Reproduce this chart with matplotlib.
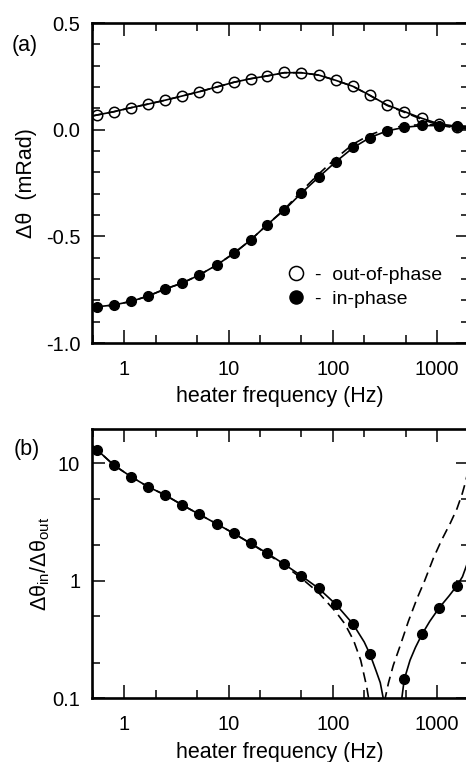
import numpy as np
import matplotlib
matplotlib.use("Agg")
import matplotlib.pyplot as plt
from matplotlib.ticker import LogLocator, FixedLocator, FixedFormatter, MultipleLocator, NullFormatter

plt.rcParams['font.family'] = ['Liberation Sans', 'DejaVu Sans']
plt.rcParams['mathtext.fontset'] = 'custom'
plt.rcParams['mathtext.rm'] = 'Liberation Sans'
plt.rcParams['axes.unicode_minus'] = False

# measured points (heater frequency in Hz)
freq = [0.55, 0.79, 1.16, 1.69, 2.46, 3.6, 5.24, 7.67, 11.2, 16.3, 23.5,
        34.2, 49.8, 73, 107, 156, 227, 330, 484, 715, 1047, 1549]
out_phase = [0.069, 0.084, 0.103, 0.120, 0.138, 0.158, 0.178, 0.200, 0.222, 0.239, 0.252,
             0.269, 0.267, 0.256, 0.231, 0.203, 0.161, 0.116, 0.085, 0.053, 0.025, 0.014]
in_phase = [-0.830, -0.822, -0.805, -0.780, -0.747, -0.719, -0.681, -0.635, -0.580, -0.517, -0.445,
            -0.377, -0.298, -0.223, -0.150, -0.083, -0.037, -0.006, 0.011, 0.020, 0.019, 0.015]

# ratio points (330 Hz point falls below the axis)
ratio_freq = [0.55, 0.79, 1.16, 1.69, 2.46, 3.6, 5.24, 7.67, 11.2, 16.3, 23.5,
              34.2, 49.8, 73, 107, 156, 227, 484, 715, 1047, 1549]
ratio = [12.98, 9.68, 7.69, 6.31, 5.37, 4.41, 3.67, 3.05, 2.53, 2.08, 1.71,
         1.38, 1.10, 0.86, 0.628, 0.427, 0.236, 0.144, 0.348, 0.587, 0.906]

# model curves, panel (a)
fit_freq = [0.49, 0.55, 0.79, 1.16, 1.69, 2.46, 3.6, 5.24, 7.67, 11.2, 16.3, 23.5,
            34.2, 49.8, 73, 107, 156, 227, 330, 484, 715, 1047, 1549, 2000]
fit_out = [0.064, 0.069, 0.084, 0.103, 0.120, 0.138, 0.158, 0.178, 0.200, 0.222, 0.239, 0.252,
           0.267, 0.267, 0.256, 0.231, 0.203, 0.161, 0.116, 0.085, 0.053, 0.027, 0.014, 0.010]
fit_in = [-0.832, -0.830, -0.822, -0.805, -0.780, -0.747, -0.719, -0.681, -0.635, -0.580, -0.517, -0.445,
          -0.377, -0.298, -0.223, -0.150, -0.085, -0.037, -0.006, 0.011, 0.019, 0.019, 0.015, 0.013]
dash_out = [0.064, 0.069, 0.084, 0.103, 0.120, 0.138, 0.158, 0.178, 0.200, 0.222, 0.239, 0.252,
            0.267, 0.267, 0.256, 0.231, 0.203, 0.160, 0.114, 0.082, 0.048, 0.021, 0.007, 0.003]
dash_in = [-0.832, -0.830, -0.822, -0.805, -0.780, -0.747, -0.719, -0.681, -0.635, -0.580, -0.517, -0.445,
           -0.374, -0.289, -0.208, -0.134, -0.068, -0.024, 0.004, 0.018, 0.024, 0.022, 0.018, 0.016]

# model curves, panel (b)
solid_lo_f = [0.49, 0.55, 0.79, 1.16, 1.69, 2.46, 3.6, 5.24, 7.67, 11.2, 16.3, 23.5,
              34.2, 49.8, 73, 107, 156, 200, 227, 260, 285, 304, 320]
solid_lo = [14.2, 12.98, 9.68, 7.69, 6.31, 5.37, 4.41, 3.67, 3.05, 2.53, 2.08, 1.71,
            1.38, 1.10, 0.86, 0.628, 0.427, 0.30, 0.236, 0.17, 0.135, 0.10, 0.075]
solid_hi_f = [430, 459, 484, 550, 620, 715, 850, 1047, 1300, 1549, 1750, 1900, 2000]
solid_hi = [0.05, 0.10, 0.144, 0.21, 0.27, 0.348, 0.45, 0.587, 0.74, 0.906, 1.08, 1.32, 1.5]
dash_lo_f = [0.49, 0.55, 0.79, 1.16, 1.69, 2.46, 3.6, 5.24, 7.67, 11.2, 16.3, 23.5,
             34.2, 49.8, 73, 107, 130, 158, 185, 211, 220, 228]
dash_lo = [14.2, 12.98, 9.68, 7.69, 6.31, 5.37, 4.41, 3.67, 3.05, 2.53, 2.07, 1.69,
           1.35, 1.05, 0.79, 0.54, 0.43, 0.31, 0.21, 0.125, 0.10, 0.08]
dash_hi_f = [300, 318, 342, 380, 443, 530, 640, 760, 920, 1100, 1340, 1550, 1740, 1880, 2000]
dash_hi = [0.068, 0.10, 0.135, 0.19, 0.28, 0.45, 0.70, 1.0, 1.55, 2.2, 3.1, 4.1, 5.5, 7.0, 9.0]

xticks = [1, 10, 100, 1000]
xticklabels = ['1', '10', '100', '1000']

W, H = 466, 762
fig = plt.figure(figsize=(W / 100, H / 100), dpi=100)
left = 92 / W
width = (468.5 - 92) / W
ax1 = fig.add_axes([left, 1 - 343 / H, width, 320 / H])
ax2 = fig.add_axes([left, 1 - 698 / H, width, 269 / H])

lw = 1.2
dash = (6, 3.5)

# panel (a)
ax1.plot(fit_freq, fit_out, color='black', lw=lw, zorder=2)
ax1.plot(fit_freq, fit_in, color='black', lw=lw, zorder=2)
ax1.plot(fit_freq, dash_out, color='black', lw=lw, dashes=dash, zorder=2)
ax1.plot(fit_freq, dash_in, color='black', lw=lw, dashes=dash, zorder=2)
h_out, = ax1.plot(freq, out_phase, 'o', ms=7.5, mfc='none', mec='black', mew=1.1, zorder=3)
h_in, = ax1.plot(freq, in_phase, 'o', ms=7.0, mfc='black', mec='black', zorder=3)
ax1.set_xscale('log')
ax1.set_xlim(0.49, 2000)
ax1.set_ylim(-1.0, 0.5)
ax1.yaxis.set_major_locator(FixedLocator([-1.0, -0.5, 0.0, 0.5]))
ax1.yaxis.set_major_formatter(FixedFormatter(['-1.0', '-0.5', '0.0', '0.5']))
ax1.yaxis.set_minor_locator(MultipleLocator(0.1))
ax1.set_ylabel('Δθ  (mRad)', fontsize=15.5)
ax1.yaxis.set_label_coords(-0.147, 0.5)
ax1.set_xlabel('heater frequency (Hz)', fontsize=15.5, va='top')
ax1.xaxis.set_label_coords(0.5, -0.135)
ax1.legend([h_out, h_in], ['-  out-of-phase', '-  in-phase'], loc='upper left',
           bbox_to_anchor=(0.516, 0.24), frameon=False, fontsize=14, handlelength=1.0,
           handletextpad=0.5, labelspacing=0.35, borderpad=0, borderaxespad=0, markerscale=1.35)

# panel (b)
ax2.plot(solid_lo_f, solid_lo, color='black', lw=lw, zorder=2)
ax2.plot(solid_hi_f, solid_hi, color='black', lw=lw, zorder=2)
ax2.plot(dash_lo_f, dash_lo, color='black', lw=lw, dashes=dash, zorder=2)
ax2.plot(dash_hi_f, dash_hi, color='black', lw=lw, dashes=dash, zorder=2)
ax2.plot(ratio_freq, ratio, 'o', ms=7.0, mfc='black', mec='black', zorder=3)
ax2.set_xscale('log')
ax2.set_yscale('log')
ax2.set_xlim(0.49, 2000)
ax2.set_ylim(0.1, 19.6)
ax2.yaxis.set_major_locator(FixedLocator([0.1, 1, 10]))
ax2.yaxis.set_major_formatter(FixedFormatter(['0.1', '1', '10']))
ax2.yaxis.set_minor_locator(LogLocator(base=10, subs=(2, 5)))
ax2.yaxis.set_minor_formatter(NullFormatter())
ax2.set_ylabel(r'Δθ$_{\rm in}$/Δθ$_{\rm out}$', fontsize=15.5)
ax2.yaxis.set_label_coords(-0.106, 0.5)
ax2.set_xlabel('heater frequency (Hz)', fontsize=15.5, va='top')
ax2.xaxis.set_label_coords(0.5, -0.164)

for ax in (ax1, ax2):
    ax.xaxis.set_major_locator(FixedLocator(xticks))
    ax.xaxis.set_major_formatter(FixedFormatter(xticklabels))
    ax.xaxis.set_minor_locator(LogLocator(base=10, subs=(2, 5)))
    ax.xaxis.set_minor_formatter(NullFormatter())
    ax.tick_params(which='both', direction='in', top=True, right=True, labelsize=14.5)
    ax.tick_params(axis='y', which='both', pad=8.5)
    ax.tick_params(axis='x', which='both', pad=12)
    ax.tick_params(which='major', length=9.5, width=1.1)
    ax.tick_params(which='minor', length=5.5, width=1.1)
    for s in ax.spines.values():
        s.set_linewidth(1.9)

fig.text(25 / W, 1 - 46 / H, '(a)', ha='center', va='center', fontsize=15.5)
fig.text(27 / W, 1 - 449 / H, '(b)', ha='center', va='center', fontsize=15.5)

fig.savefig('out.png', dpi=100)
